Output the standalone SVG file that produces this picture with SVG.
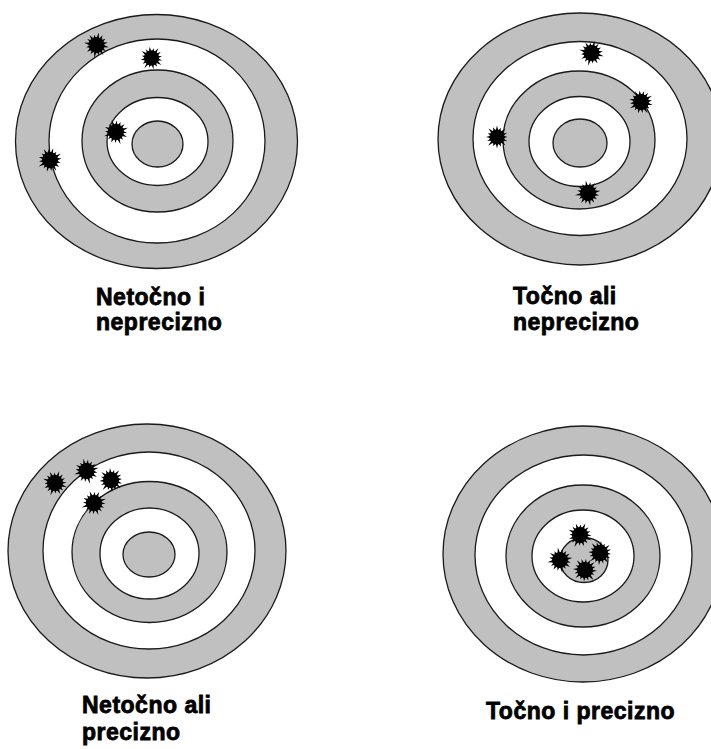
<svg xmlns="http://www.w3.org/2000/svg" xmlns:xlink="http://www.w3.org/1999/xlink" width="711" height="749" viewBox="0 0 711 749">
<style>
.g{fill:#c0c0c0;stroke:#1a1a1a;stroke-width:1.3}
.w{fill:#ffffff;stroke:#1a1a1a;stroke-width:1.3}
.lbl{font-family:"Liberation Sans",Arial,sans-serif;font-weight:bold;font-size:23px;letter-spacing:0.5px;fill:#000;stroke:#000;stroke-width:0.8}
.s{fill:#000}
</style>
<defs>
<g id="splat" class="s">
<path d="M12,0 L6.375,1.268 L9.70,4.02 L5.405,3.611 L8.13,8.13 L3.611,5.405 L3.83,9.24 L1.268,6.375 L0,12.5 L-1.268,6.375 L-4.02,9.70 L-3.611,5.405 L-7.78,7.78 L-5.405,3.611 L-9.24,3.83 L-6.375,1.268 L-12,0 L-6.375,-1.268 L-9.70,-4.02 L-5.405,-3.611 L-8.13,-8.13 L-3.611,-5.405 L-3.83,-9.24 L-1.268,-6.375 L0,-12 L1.268,-6.375 L4.21,-10.16 L3.611,-5.405 L7.42,-7.42 L5.405,-3.611 L10.16,-4.21 L6.375,-1.268 Z"/>
<circle r="7.6"/>
</g>
</defs>
<rect width="711" height="749" fill="#ffffff"/>

<g id="target-netocno-neprecizno">
<ellipse class="g" cx="156.5" cy="141.5" rx="141" ry="127"/>
<ellipse class="w" cx="157" cy="141" rx="108" ry="102"/>
<ellipse class="g" cx="157.5" cy="141" rx="75.5" ry="71"/>
<ellipse class="w" cx="157.5" cy="141.5" rx="50.5" ry="44"/>
<ellipse class="g" cx="157.5" cy="144" rx="25.5" ry="23"/>
<use xlink:href="#splat" transform="translate(96.5,45) rotate(10) scale(1.05)"/>
<use xlink:href="#splat" transform="translate(151.5,58) rotate(35) scale(1)"/>
<use xlink:href="#splat" transform="translate(116,132) rotate(-20) scale(1.05)"/>
<use xlink:href="#splat" transform="translate(50,160) rotate(60) scale(1.05)"/>
<text class="lbl" x="96" y="305">Netočno i</text>
<text class="lbl" x="96" y="330">neprecizno</text>
</g>

<g id="target-tocno-neprecizno">
<ellipse class="g" cx="580" cy="139" rx="142" ry="126"/>
<ellipse class="w" cx="580" cy="138.5" rx="107" ry="97"/>
<ellipse class="g" cx="579" cy="140" rx="76" ry="69"/>
<ellipse class="w" cx="579.5" cy="141.5" rx="50.5" ry="45"/>
<ellipse class="g" cx="580" cy="143" rx="27" ry="24"/>
<use xlink:href="#splat" transform="translate(591.5,53) rotate(15) scale(1.05)"/>
<use xlink:href="#splat" transform="translate(641,102) rotate(-30) scale(1.05)"/>
<use xlink:href="#splat" transform="translate(497,137) rotate(45) scale(1)"/>
<use xlink:href="#splat" transform="translate(588,193) rotate(80) scale(1.05)"/>
<text class="lbl" x="513" y="304">Točno ali</text>
<text class="lbl" x="513" y="330">neprecizno</text>
</g>

<g id="target-netocno-precizno">
<ellipse class="g" cx="147" cy="551" rx="139" ry="127"/>
<ellipse class="w" cx="149" cy="550.5" rx="106" ry="98.5"/>
<ellipse class="g" cx="149.5" cy="552" rx="77.5" ry="70.5"/>
<ellipse class="w" cx="149.5" cy="553.5" rx="49.5" ry="45.5"/>
<ellipse class="g" cx="149" cy="554.5" rx="26" ry="22.5"/>
<use xlink:href="#splat" transform="translate(55,483) rotate(20) scale(1.05)"/>
<use xlink:href="#splat" transform="translate(86.5,471) rotate(-15) scale(1.05)"/>
<use xlink:href="#splat" transform="translate(111,480) rotate(40) scale(1.05)"/>
<use xlink:href="#splat" transform="translate(94,503) rotate(70) scale(1.05)"/>
<text class="lbl" x="82" y="713">Netočno ali</text>
<text class="lbl" x="82" y="740">precizno</text>
</g>

<g id="target-tocno-precizno">
<ellipse class="g" cx="583" cy="554" rx="140" ry="128"/>
<ellipse class="w" cx="583.5" cy="555" rx="108.5" ry="100"/>
<ellipse class="g" cx="583" cy="556" rx="77" ry="71"/>
<ellipse class="w" cx="583" cy="556" rx="51" ry="46"/>
<ellipse class="g" cx="584" cy="560" rx="24" ry="22.5"/>
<use xlink:href="#splat" transform="translate(580,535) rotate(25) scale(1.05)"/>
<use xlink:href="#splat" transform="translate(560,560) rotate(-10) scale(1.05)"/>
<use xlink:href="#splat" transform="translate(600,553) rotate(50) scale(1.05)"/>
<use xlink:href="#splat" transform="translate(585,570) rotate(-40) scale(1.05)"/>
<text class="lbl" x="486" y="719">Točno i precizno</text>
</g>
</svg>
